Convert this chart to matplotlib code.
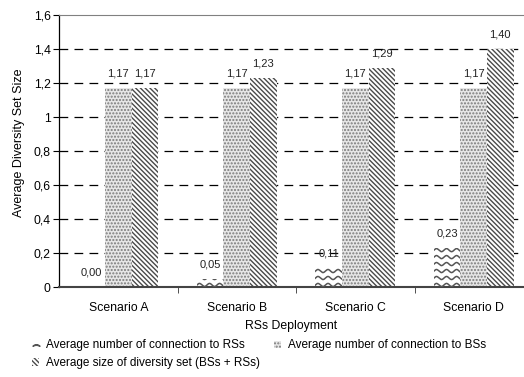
import numpy as np
import matplotlib
matplotlib.use("Agg")
import matplotlib.pyplot as plt
from matplotlib.patches import Patch
from matplotlib.lines import Line2D

plt.rcParams['font.family'] = ['Liberation Sans', 'DejaVu Sans']
plt.rcParams['hatch.linewidth'] = 1.0

scenarios = ["Scenario A", "Scenario B", "Scenario C", "Scenario D"]
conn_rs = [0.00, 0.05, 0.11, 0.23]
conn_bs = [1.17, 1.17, 1.17, 1.17]
div_set = [1.17, 1.23, 1.29, 1.40]
y_ticks = [0, 0.2, 0.4, 0.6, 0.8, 1.0, 1.2, 1.4, 1.6]
series_names = ["Average number of connection to RSs",
                "Average number of connection to BSs",
                "Average size of diversity set (BSs + RSs)"]

def fmt(v):
    # excel style: comma decimals
    return ("%.2f" % v).replace(".", ",")

def fmt_tick(v):
    s = ("%.1f" % v).rstrip("0").rstrip(".")
    return s.replace(".", ",")

fig = plt.figure(figsize=(5.24, 3.77), dpi=100)
# the original chart is cut off at the right edge, so the axes runs off the picture
ax = fig.add_axes([0.1126, 0.2387, 0.8874, 0.7213])

x = np.arange(len(scenarios))
w = 0.224
div_hatch = "\\" * 7

bars_rs = ax.bar(x - w, conn_rs, w, facecolor="white", edgecolor="none", linewidth=0)
bars_bs = ax.bar(x, conn_bs, w, facecolor="#e6e6e6", edgecolor="#7a7a7a", linewidth=0, hatch=".....")
bars_div = ax.bar(x + w, div_set, w, facecolor="white", edgecolor="#4a4a4a", linewidth=0, hatch=div_hatch)

# wavy fill for the RS bars, clipped to each bar
for b in bars_rs:
    h = b.get_height()
    if h <= 0:
        continue
    x0 = b.get_x()
    xs = np.linspace(x0 - 0.05, x0 + w + 0.05, 200)
    yy = 0.012
    while yy < h + 0.03:
        ys = yy + 0.009 * np.sin(2 * np.pi * (xs - x0) / 0.085)
        ln, = ax.plot(xs, ys, color="#555555", lw=1.1, zorder=3)
        ln.set_clip_path(b)
        yy += 0.041

for bars, vals in [(bars_rs, conn_rs), (bars_bs, conn_bs), (bars_div, div_set)]:
    for b, v in zip(bars, vals):
        ax.text(b.get_x() + b.get_width() / 2, v + 0.085, fmt(v),
                ha="center", va="center", fontsize=8, color="#222222")

ax.set_xlim(-0.5, 3.424)
ax.set_ylim(0, 1.6)
ax.set_yticks(y_ticks)
ax.set_yticklabels([fmt_tick(v) for v in y_ticks], fontsize=8.8)
ax.set_xticks(x)
ax.set_xticklabels(scenarios, fontsize=8.8)
ax.set_xticks([0.5, 1.5, 2.5], minor=True)
ax.tick_params(axis="x", which="major", length=0, pad=11)
ax.tick_params(axis="x", which="minor", length=4, direction="out", color="#333333")
ax.tick_params(axis="y", length=4, direction="out", pad=2)

for yv in y_ticks[1:-1]:
    ax.axhline(yv, color="black", lw=0.9, ls=(0, (7, 5)), zorder=0)

ax.spines["right"].set_visible(False)
ax.spines["top"].set_color("#808080")
ax.spines["bottom"].set_color("#444444")
ax.spines["bottom"].set_linewidth(1.5)
ax.spines["left"].set_linewidth(0.9)

ax.set_ylabel("Average Diversity Set Size", fontsize=9)
ax.yaxis.set_label_coords(-0.073, 0.53)
ax.set_xlabel("RSs Deployment", fontsize=8.8, labelpad=4)

h_rs = Line2D([], [], ls="none", marker=r"$\frown$", color="#555555", markersize=5)
h_bs = Patch(facecolor="#e6e6e6", edgecolor="#7a7a7a", linewidth=0, hatch=".....")
h_div = Patch(facecolor="white", edgecolor="#4a4a4a", linewidth=0, hatch=div_hatch)
leg = fig.legend([h_rs, h_div, h_bs], [series_names[0], series_names[2], series_names[1]],
                 loc="upper left", bbox_to_anchor=(0.052, 0.112), ncol=2, frameon=False,
                 fontsize=8.5, handlelength=0.6, handleheight=0.6, handletextpad=0.6,
                 columnspacing=1.2, labelspacing=0.5, borderaxespad=0)

fig.savefig("out.png", dpi=100)
